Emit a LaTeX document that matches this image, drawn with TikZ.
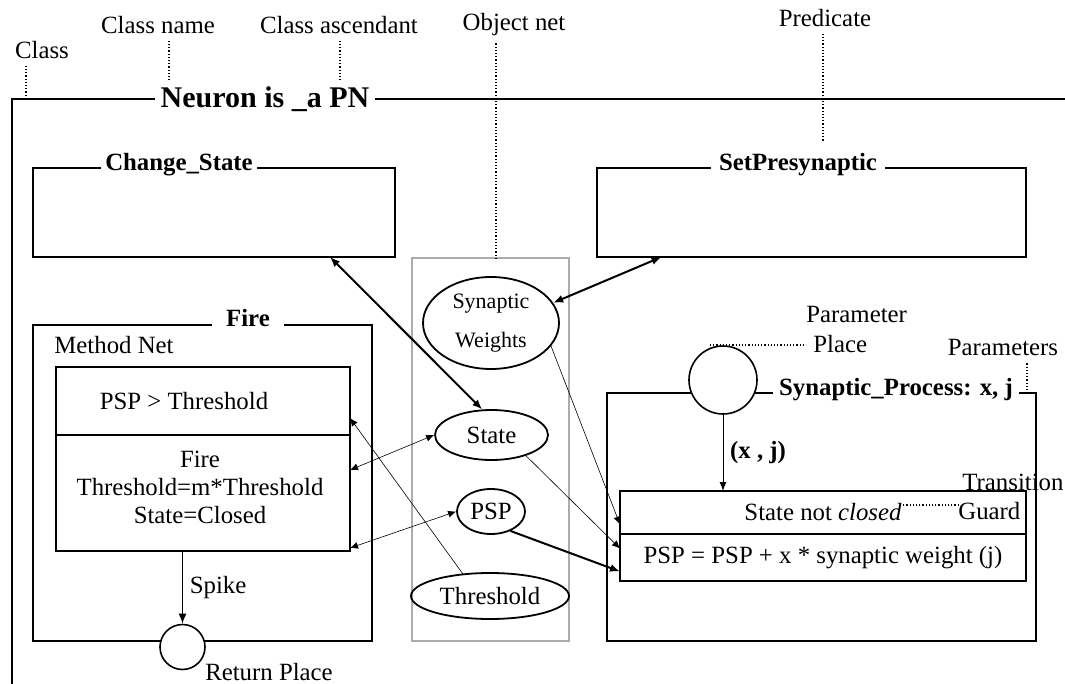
\documentclass[tikz,border=0pt]{standalone}
\usepackage{fontspec}
\setmainfont{Liberation Serif}
\usetikzlibrary{arrows.meta,calc,shapes.geometric}

\tikzset{
	every node/.style={font=\fontsize{12.4}{15}\selectfont},
	frame/.style={line width=1pt},
	box/.style={draw, line width=1pt, inner sep=0pt, outer sep=0pt},
	netbox/.style={draw=gray!65, line width=1pt, inner sep=0pt},
	place/.style={draw, circle, line width=0.8pt, fill=white, inner sep=0pt},
	token/.style={draw, ellipse, line width=0.9pt, inner sep=0pt},
	title/.style={fill=white, inner xsep=2pt, inner ysep=1pt, font=\fontsize{12.4}{15}\selectfont\bfseries},
	leader/.style={densely dotted, line width=0.6pt},
	arcthin/.style={-{Latex[length=4pt,width=3.5pt]}, line width=0.3pt},
	arcboth/.style={{Latex[length=4pt,width=3.5pt]}-{Latex[length=4pt,width=3.5pt]}, line width=0.3pt},
	arcbold/.style={-{Latex[length=5pt,width=4pt]}, line width=1pt},
	arcboldboth/.style={{Latex[length=5pt,width=4pt]}-{Latex[length=5pt,width=4pt]}, line width=1pt}
}

\begin{document}
\begin{tikzpicture}[x=0.5pt,y=-0.5pt]
	\useasboundingbox (0,0) rectangle (1065,684);
	\draw[frame] (1065,99) -- (12,99) -- (12,684);
	\node[title, inner xsep=3pt, font=\fontsize{15}{18}\selectfont\bfseries] (neuron) at (265,99) {Neuron is \_a PN};
%
	\node[box, minimum width=181pt, minimum height=44.5pt] (chg) at (214,212.5) {};
	\node[title] (chgT) at (179,165) {Change\_State\hspace{3.5pt}};
	\node[box, minimum width=214.5pt, minimum height=44.5pt] (setp) at (811.5,212.5) {};
	\node[title, inner xsep=4.25pt] (setpT) at (798,165) {SetPresynaptic\hspace{7pt}};
%
	\node[box, minimum width=169.5pt, minimum height=158pt] (fire) at (202.5,483) {};
	\node[title, inner xsep=7pt] (fireT) at (248,318) {Fire};
	\node (mnet) at (114,345) {Method Net};
	\node[box, minimum width=147pt, minimum height=34pt,
		label={[xshift=-9.5pt]center:PSP > Threshold}] (cond) at (203,401) {};
	\node[box, minimum width=147pt, minimum height=58pt,
		label={[align=center, xshift=-1.5pt, yshift=3pt, font=\fontsize{12.4}{14}\selectfont]center:Fire\\Threshold=m*Threshold\\State=Closed}] (act) at (203,493) {};
	\node[place, minimum size=22.5pt] (ret) at (182.5,647) {};
	\node (retL) at (269,672) {Return Place};
	\draw[-{Latex[length=5pt,width=4pt]}, line width=0.7pt] (ret.north |- act.south) -- node[right] {Spike} (ret.north);
%
	\node[netbox, minimum width=78.5pt, minimum height=191.5pt] (net) at (490.5,449.5) {};
	\node[token, minimum width=68pt, minimum height=46pt, align=center, font=\fontsize{11}{19.5}\selectfont] (sw) at (491,323) {Synaptic\\Weights};
	\node[token, minimum width=56.5pt, minimum height=25pt] (st) at (491.5,435) {State};
	\node[token, minimum width=34pt, minimum height=22.5pt] (psp) at (491,511.5) {PSP};
	\node[token, minimum width=79pt, minimum height=23pt] (thr) at (490,596) {Threshold};
%
	\node[box, minimum width=214.5pt, minimum height=124pt] (synp) at (821.5,517) {};
	\node[place, minimum size=34pt] (par) at (723,380) {};
	\node[title, inner xsep=3pt] (synpT) at (896,390) {Synaptic\_Process: x, j};
	\node[box, minimum width=203pt, minimum height=21.5pt] (guard) at (823,512.5) {State not \textit{closed}};
	\node[box, minimum width=203pt, minimum height=23.5pt] (upd) at (823,557.5) {PSP = PSP + x * synaptic weight (j)};
	\draw[-{Latex[length=4.5pt,width=3.5pt]}, line width=0.5pt] (par.south) -- node[right, font=\fontsize{12.4}{15}\selectfont\bfseries] {(x , j)} (par.south |- guard.north);
%
	\node (lcls) at (42,50) {Class};
	\node (lname) at (158,25) {Class name};
	\node (lasc) at (339,25) {Class ascendant};
	\node (lobj) at (514,25) {Object net};
	\node (lpred) at (825,18) {Predicate};
	\node[align=left, anchor=west, inner sep=0pt] (lpar) at (806,330) {Parameter\\\hspace{3.5pt}Place};
	\node (lpars) at (1003,348) {Parameters};
	\node[align=left, anchor=west, inner sep=0pt, font=\fontsize{12.4}{14.5}\selectfont] (ltg) at (958,497) {\hspace{2pt}Transition\\Guard};
	\coordinate (clsP) at (26,99);
	\coordinate (nameP) at (169,82);
	\coordinate (ascP) at (340,80);
	\coordinate (objP) at (496,258);
	\coordinate (predP) at (823,142);
	\coordinate (placeP) at (710,345);
	\coordinate (parsP) at (1027,392);
	\coordinate (guardP) at (900,505);
	\draw[leader] (lcls.south -| clsP) -- (clsP);
	\draw[leader] (lname.south -| nameP) -- (nameP);
	\draw[leader] (lasc.south -| ascP) -- (ascP);
	\draw[leader] (lobj.south -| objP) -- (objP);
	\draw[leader] (lpred.south -| predP) -- (predP);
	\draw[leader] (placeP) -- (lpar.west |- placeP);
	\draw[leader] (lpars.south -| parsP) -- (parsP);
	\draw[leader] (guardP) -- (ltg.west |- guardP);
%
	\draw[arcboldboth] ($(chg.south)+(116,0)$) -- (st.110);
	\draw[arcboldboth] ($(setp.south)+(-150,0)$) -- (sw.18);
	\draw[arcboth] (st.west) -- ($(act.east)+(0,-23)$);
	\draw[arcboth] (psp.west) -- ($(act.south east)+(0,-3)$);
	\draw[arcthin] ($(thr.north)+(-27,2)$) -- ($(cond.east)+(0,17)$);
	\draw[arcthin] (sw.-21) -- ($(guard.west)+(0,12)$);
	\draw[arcthin] (st.-31) -- ($(upd.west)+(0,-9)$);
	\draw[arcbold] (psp.-45) -- ($(upd.west)+(0,14)$);
\end{tikzpicture}
\end{document}
